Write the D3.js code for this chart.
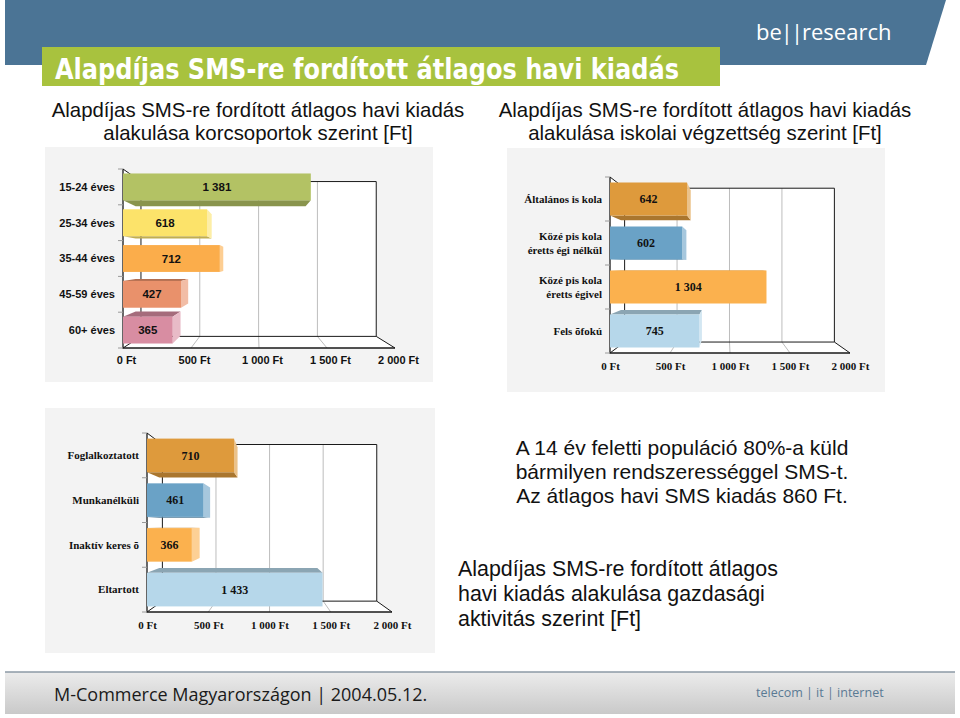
<!DOCTYPE html>
<html>
<head>
<meta charset="utf-8">
<script src="https://cdn.jsdelivr.net/npm/d3@7"></script>
<style>
  body { margin: 0; background: #fff; }
  svg text { fill: #111; }
</style>
</head>
<body>
<svg id="slide" width="960" height="718"></svg>
<script>
// ---- data ----
var ageCats = ["15-24 éves", "25-34 éves", "35-44 éves", "45-59 éves", "60+ éves"];
var ageValues = [1381, 618, 712, 427, 365];

var eduCats = [["Általános  is kola"], ["Közé pis kola", "éretts égi nélkül"], ["Közé pis kola", "éretts égivel"], ["Fels õfokú"]];
var eduValues = [642, 602, 1304, 745];

var actCats = ["Foglalkoztatott", "Munkanélküli", "Inaktív keres õ", "Eltartott"];
var actValues = [710, 461, 366, 1433];

var xTicks = [0, 500, 1000, 1500, 2000];
var xMax = 2000;

// palettes
var agePalette = ["#b3c264", "#fce36a", "#fbad4b", "#e9916b", "#d88da2"];
var eduPalette = ["#de9a3c", "#6aa2c6", "#fbb14e", "#b6d7ea"];

var hu = d3.formatLocale({decimal: ",", thousands: " ", grouping: [3], currency: ["", " Ft"]});
var fmtNum = hu.format(",d");

var sans = "'Liberation Sans', Arial, sans-serif";
var svg = d3.select("#slide");

// ---- header ----
svg.append("path")
  .attr("d", "M5,0L946,0L926,65L5,65Z")
  .attr("fill", "#4b7495");

var logo = svg.append("text")
  .attr("x", 756).attr("y", 40)
  .style("font-family", "'Open Sans', sans-serif")
  .style("font-size", "22px");
logo.append("tspan").text("be").style("fill", "#fff");
logo.append("tspan").text("||").attr("dx", -1).style("fill", "#fff").style("letter-spacing", "-2px");
logo.append("tspan").text("research").attr("dx", 1).style("fill", "#fff");

svg.append("rect")
  .attr("x", 42).attr("y", 47).attr("width", 678).attr("height", 39)
  .attr("fill", "#a8c23e");
svg.append("text")
  .attr("x", 55).attr("y", 79)
  .attr("textLength", 624).attr("lengthAdjust", "spacingAndGlyphs")
  .style("font-family", "'DejaVu Sans Condensed', 'DejaVu Sans', sans-serif")
  .style("font-weight", "bold").style("font-size", "28px")
  .style("fill", "#fff")
  .text("Alapdíjas SMS-re fordított átlagos havi kiadás");

// subtitles, one text per line
function subtitle(cx, lines) {
  lines.forEach(function(l, i) {
    svg.append("text")
      .attr("x", cx).attr("y", 117 + i * 23)
      .attr("text-anchor", "middle")
      .style("font-family", sans)
      .style("font-size", "20.4px")
      .text(l);
  });
}
subtitle(258, ["Alapdíjas SMS-re fordított átlagos havi kiadás", "alakulása korcsoportok szerint [Ft]"]);
subtitle(705, ["Alapdíjas SMS-re fordított átlagos havi kiadás", "alakulása iskolai végzettség szerint [Ft]"]);

// ---- 3d bar chart helper ----
function poly(pts) { return "M" + pts.map(function(p) { return p.join(","); }).join("L") + "Z"; }

function bar3d(cfg) {
  var g = svg.append("g");

  g.append("rect")
    .attr("x", cfg.panel[0]).attr("y", cfg.panel[1])
    .attr("width", cfg.panel[2]).attr("height", cfg.panel[3])
    .attr("fill", "#f3f3f3");

  var x = d3.scaleLinear().domain([0, xMax]).range([cfg.x0, cfg.x1]);
  var y = d3.scaleBand().domain(d3.range(cfg.cats.length))
    .range([cfg.y0, cfg.y1]).paddingInner(0.25).paddingOuter(0.125);

  function proj(px, py, k) {
    return [cfg.vp[0] + (px - cfg.vp[0]) * k, cfg.vp[1] + (py - cfg.vp[1]) * k];
  }
  var kw = cfg.kWall, kb = cfg.kBar;
  var xl = x(0), xr = x(xMax), yt = cfg.y0, yb = cfg.y1;

  var bTL = proj(xl, yt, kw), bTR = proj(xr, yt, kw), bBR = proj(xr, yb, kw), bBL = proj(xl, yb, kw);

  // walls
  g.append("path").attr("d", poly([[xl, yt], bTL, bBL, [xl, yb]])).attr("fill", "#fff");
  g.append("path").attr("d", poly([[xl, yb], [xr, yb], bBR, bBL])).attr("fill", "#fff");
  g.append("path").attr("d", poly([bTL, bTR, bBR, bBL])).attr("fill", "#fff");

  // gridlines
  xTicks.filter(function(d) { return d > 0 && d < xMax; }).forEach(function(v) {
    var top = proj(x(v), yt, kw), bot = proj(x(v), yb, kw);
    g.append("path").attr("d", "M" + top + "L" + bot + "L" + [x(v), yb])
      .attr("fill", "none").attr("stroke", "#bdbdbd").attr("stroke-width", 1);
  });

  // wall edges
  var edge = "#1a1a1a";
  g.append("path").attr("d", poly([bTL, bTR, bBR, bBL])).attr("fill", "none").attr("stroke", edge);
  g.append("path").attr("d", "M" + [xl, yt] + "L" + bTL + "M" + [xl, yb] + "L" + bBL +
      "M" + [xr, yb] + "L" + bBR)
    .attr("fill", "none").attr("stroke", edge);
  g.append("path").attr("d", "M" + [xl, yt] + "L" + [xl, yb] + "L" + [xr, yb])
    .attr("fill", "none").attr("stroke", edge).attr("stroke-width", 1.3);

  // category ticks at band edges
  d3.range(cfg.cats.length + 1).forEach(function(i) {
    var yy = cfg.y0 + i * y.step();
    g.append("line").attr("x1", xl - 5).attr("x2", xl).attr("y1", yy).attr("y2", yy)
      .attr("stroke", "#9a9a9a");
  });

  // bars
  cfg.values.forEach(function(v, i) {
    var c = d3.color(cfg.colors[i]);
    var top = y(i), bot = y(i) + y.bandwidth(), r = x(v);
    var fTL = [xl, top], fTR = [r, top], fBR = [r, bot], fBL = [xl, bot];
    var kTL = proj(xl, top, kb), kTR = proj(r, top, kb), kBR = proj(r, bot, kb), kBL = proj(xl, bot, kb);
    var shade = c.darker(0.75).formatHex();
    var light = d3.interpolateRgb(c, "#fff")(0.4);
    if (kTL[1] < top) g.append("path").attr("d", poly([fTL, fTR, kTR, kTL])).attr("fill", shade);
    if (kBL[1] > bot) g.append("path").attr("d", poly([fBL, fBR, kBR, kBL])).attr("fill", shade);
    if (kTR[0] > r) g.append("path").attr("d", poly([fTR, kTR, kBR, fBR])).attr("fill", light);
    g.append("rect").attr("x", xl).attr("y", top).attr("width", r - xl).attr("height", y.bandwidth())
      .attr("fill", c.formatHex());
    g.append("text")
      .attr("x", (xl + r) / 2).attr("y", top + y.bandwidth() / 2)
      .attr("dy", "0.35em").attr("text-anchor", "middle")
      .style("font-family", cfg.font).style("font-weight", "bold").style("font-size", cfg.valueSize)
      .text(fmtNum(v));
  });

  // category labels
  cfg.cats.forEach(function(lab, i) {
    var lines = Array.isArray(lab) ? lab : [lab];
    var cy = y(i) + y.bandwidth() / 2;
    var t = g.append("text").attr("text-anchor", "end")
      .style("font-family", cfg.font).style("font-weight", "bold").style("font-size", "11px");
    lines.forEach(function(l, j) {
      t.append("tspan").attr("x", xl - 8)
        .attr("y", cy + (j - (lines.length - 1) / 2) * 14)
        .attr("dy", "0.35em").text(l);
    });
  });

  // value axis
  var ax = g.append("g")
    .attr("transform", "translate(" + cfg.tickShift + "," + (yb + cfg.tickGap) + ")")
    .call(d3.axisBottom(x).tickValues(xTicks).tickSize(0).tickPadding(0)
      .tickFormat(function(d) { return fmtNum(d) + " Ft"; }));
  ax.select(".domain").remove();
  ax.selectAll("text")
    .style("font-family", cfg.font).style("font-weight", "bold").style("font-size", "11px")
    .style("fill", "#111");
}

bar3d({
  panel: [45, 147, 388, 235],
  cats: ageCats, values: ageValues, colors: agePalette,
  x0: 123, x1: 395, y0: 169, y1: 348,
  vp: [256, 262], kWall: 0.865, kBar: 0.905,
  font: sans, valueSize: "11.5px",
  tickShift: 3, tickGap: 8
});

bar3d({
  panel: [507, 148, 378, 244],
  cats: eduCats, values: eduValues, colors: eduPalette,
  x0: 610, x1: 850, y0: 177, y1: 353,
  vp: [726, 266], kWall: 0.874, kBar: 0.905,
  font: "'Liberation Serif', 'Times New Roman', serif", valueSize: "12px",
  tickShift: 0, tickGap: 9
});

bar3d({
  panel: [45, 408, 390, 245],
  cats: actCats, values: actValues, colors: eduPalette,
  x0: 147, x1: 392, y0: 433, y1: 612,
  vp: [270, 525], kWall: 0.875, kBar: 0.9,
  font: "'Liberation Serif', 'Times New Roman', serif", valueSize: "12px",
  tickShift: 0, tickGap: 9
});

// ---- text blocks ----
["A 14 év feletti populáció 80%-a küld", "bármilyen rendszerességgel SMS-t.", "Az átlagos havi SMS kiadás 860 Ft."]
  .forEach(function(l, i) {
    svg.append("text").attr("x", 682).attr("y", 455 + i * 24).attr("text-anchor", "middle")
      .style("font-family", sans).style("font-size", "21px").text(l);
  });

["Alapdíjas SMS-re fordított átlagos", "havi kiadás alakulása gazdasági", "aktivitás szerint [Ft]"]
  .forEach(function(l, i) {
    svg.append("text").attr("x", 458).attr("y", 576 + i * 25)
      .style("font-family", sans).style("font-size", "21.4px").text(l);
  });

// ---- footer ----
var grad = svg.append("defs").append("linearGradient").attr("id", "foot")
  .attr("x1", 0).attr("y1", 0).attr("x2", 0).attr("y2", 1);
grad.append("stop").attr("offset", "0%").attr("stop-color", "#ececec");
grad.append("stop").attr("offset", "100%").attr("stop-color", "#c9c9c9");
svg.append("rect").attr("x", 5).attr("y", 672).attr("width", 950).attr("height", 42).attr("fill", "url(#foot)");
svg.append("line").attr("x1", 5).attr("x2", 955).attr("y1", 672).attr("y2", 672)
  .attr("stroke", "#8c9aa6").attr("stroke-width", 1.5);
svg.append("text").attr("x", 54).attr("y", 701)
  .style("font-family", "'Open Sans', sans-serif").style("font-size", "18px").style("fill", "#1a1a1a")
  .text("M-Commerce Magyarországon | 2004.05.12.");
svg.append("text").attr("x", 756).attr("y", 697)
  .style("font-family", "'Open Sans', sans-serif").style("font-size", "12.5px").style("fill", "#5a7a94")
  .text("telecom | it | internet");
</script>
</body>
</html>
